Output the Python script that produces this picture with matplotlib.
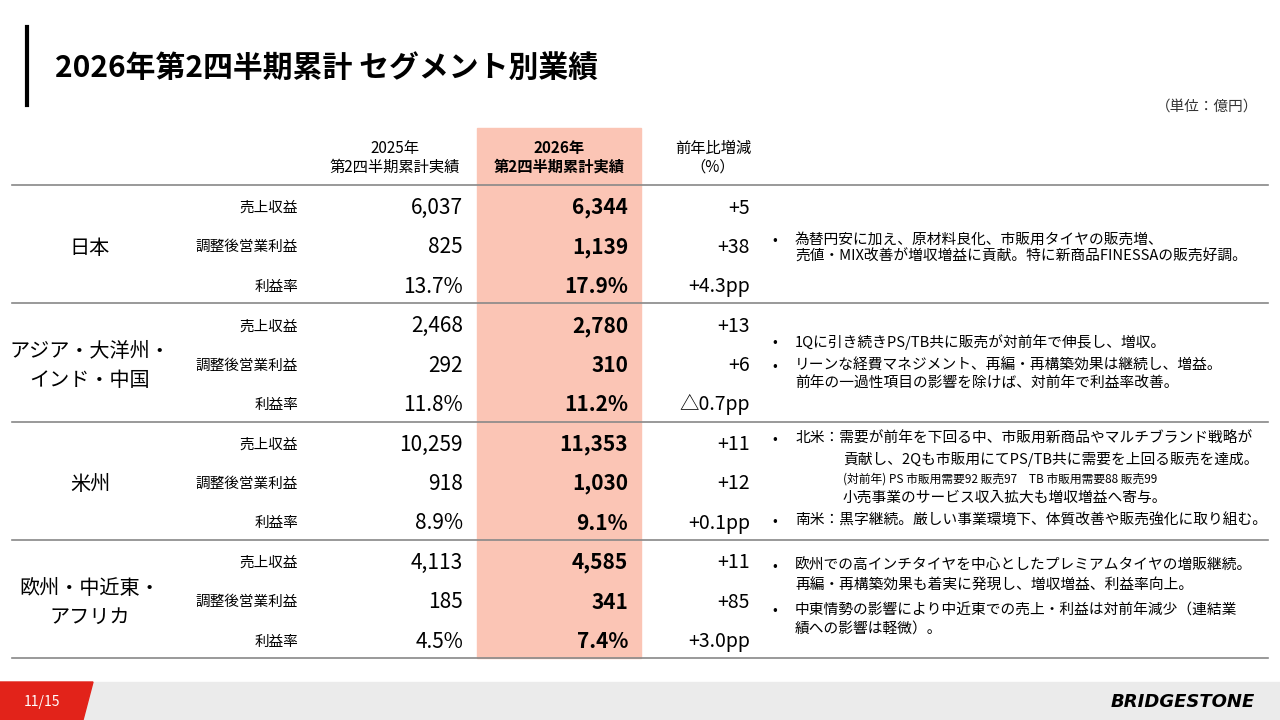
import matplotlib.pyplot as plt
from matplotlib.patches import Rectangle, Polygon

plt.rcParams['font.family'] = ['Noto Sans CJK JP', 'DejaVu Sans']

# table data: region, rows (metric, 2025, 2026, change)
segments = [
    ('日本', [('売上収益', '6,037', '6,344', '+5'),
              ('調整後営業利益', '825', '1,139', '+38'),
              ('利益率', '13.7%', '17.9%', '+4.3pp')]),
    ('アジア・大洋州・\nインド・中国', [('売上収益', '2,468', '2,780', '+13'),
                               ('調整後営業利益', '292', '310', '+6'),
                               ('利益率', '11.8%', '11.2%', '△0.7pp')]),
    ('米州', [('売上収益', '10,259', '11,353', '+11'),
              ('調整後営業利益', '918', '1,030', '+12'),
              ('利益率', '8.9%', '9.1%', '+0.1pp')]),
    ('欧州・中近東・\nアフリカ', [('売上収益', '4,113', '4,585', '+11'),
                          ('調整後営業利益', '185', '341', '+85'),
                          ('利益率', '4.5%', '7.4%', '+3.0pp')]),
]

# notes: (y, bullet?, x, text, size)
notes = [
    (240, True, 795, '為替円安に加え、原材料良化、市販用タイヤの販売増、', 10.6),
    (257, False, 795, '売値・MIX改善が増収増益に貢献。特に新商品FINESSAの販売好調。', 10.6),
    (342, True, 795, '1Qに引き続きPS/TB共に販売が対前年で伸長し、増収。', 10.6),
    (366, True, 795, 'リーンな経費マネジメント、再編・再構築効果は継続し、増益。', 10.6),
    (384, False, 795, '前年の一過性項目の影響を除けば、対前年で利益率改善。', 10.6),
    (439, True, 795, '北米：需要が前年を下回る中、市販用新商品やマルチブランド戦略が', 10.6),
    (459, False, 843, '貢献し、2Qも市販用にてPS/TB共に需要を上回る販売を達成。', 10.6),
    (479, False, 843, '(対前年) PS 市販用需要92 販売97　TB 市販用需要88 販売99', 8.5),
    (498, False, 843, '小売事業のサービス収入拡大も増収増益へ寄与。', 10.6),
    (521, True, 795, '南米：黒字継続。厳しい事業環境下、体質改善や販売強化に取り組む。', 10.6),
    (566, True, 795, '欧州での高インチタイヤを中心としたプレミアムタイヤの増販継続。', 10.6),
    (586, False, 795, '再編・再構築効果も着実に発現し、増収増益、利益率向上。', 10.6),
    (610, True, 795, '中東情勢の影響により中近東での売上・利益は対前年減少（連結業', 10.6),
    (630, False, 795, '績への影響は軽微）。', 10.6),
]

fig = plt.figure(figsize=(12.8, 7.2), dpi=100)
ax = fig.add_axes([0, 0, 1, 1])
ax.set_xlim(0, 1280)
ax.set_ylim(720, 0)
ax.axis('off')

# title
ax.plot([27, 27], [27, 105], color='black', linewidth=3)
ax.text(55, 68, '2026年第2四半期累計 セグメント別業績', fontsize=21.5, fontweight='bold', va='center')
ax.text(1258, 107, '（単位：億円）', fontsize=10.5, ha='right', va='center', color='#333333')

# highlighted column
ax.add_patch(Rectangle((477, 128), 164, 530, color='#FBC5B5', zorder=0))

# header
ax.text(395, 148, '2025年', fontsize=11, ha='center', va='center')
ax.text(395, 167, '第2四半期累計実績', fontsize=11, ha='center', va='center')
ax.text(559, 148, '2026年', fontsize=11, ha='center', va='center', fontweight='bold')
ax.text(559, 167, '第2四半期累計実績', fontsize=11, ha='center', va='center', fontweight='bold')
ax.text(713, 148, '前年比増減', fontsize=11, ha='center', va='center')
ax.text(713, 167, '（%）', fontsize=11, ha='center', va='center')

top = 185
for region, rows in segments:
    ax.plot([12, 1268], [top, top], color='#888888', linewidth=1.2)
    ax.text(90, top + 63, region, fontsize=14.5, ha='center', va='center', linespacing=1.5)
    for i, (metric, v25, v26, chg) in enumerate(rows):
        y = top + 23 + i * 39.3
        ax.text(298, y, metric, fontsize=10.5, ha='right', va='center')
        ax.text(463, y, v25, fontsize=15, ha='right', va='center')
        ax.text(628, y, v26, fontsize=15, ha='right', va='center', fontweight='bold')
        ax.text(750, y, chg, fontsize=14, ha='right', va='center')
    top += 118.3
ax.plot([12, 1268], [658, 658], color='#888888', linewidth=1.2)

for y, bullet, x, text, size in notes:
    if bullet:
        ax.text(775, y, '•', fontsize=10, ha='center', va='center')
    ax.text(x, y, text, fontsize=size, ha='left', va='center')

# footer
ax.add_patch(Rectangle((0, 682), 1280, 38, color='#EBEBEB', zorder=0))
ax.add_patch(Polygon([[0, 682], [93, 682], [83, 720], [0, 720]], color='#E2231A'))
ax.text(42, 702, '11/15', fontsize=10, color='white', ha='center', va='center')
ax.text(1255, 702, 'BRIDGESTONE', fontsize=13, fontweight='bold', style='italic',
        family='DejaVu Sans', ha='right', va='center', color='black')

fig.savefig('out.png')
